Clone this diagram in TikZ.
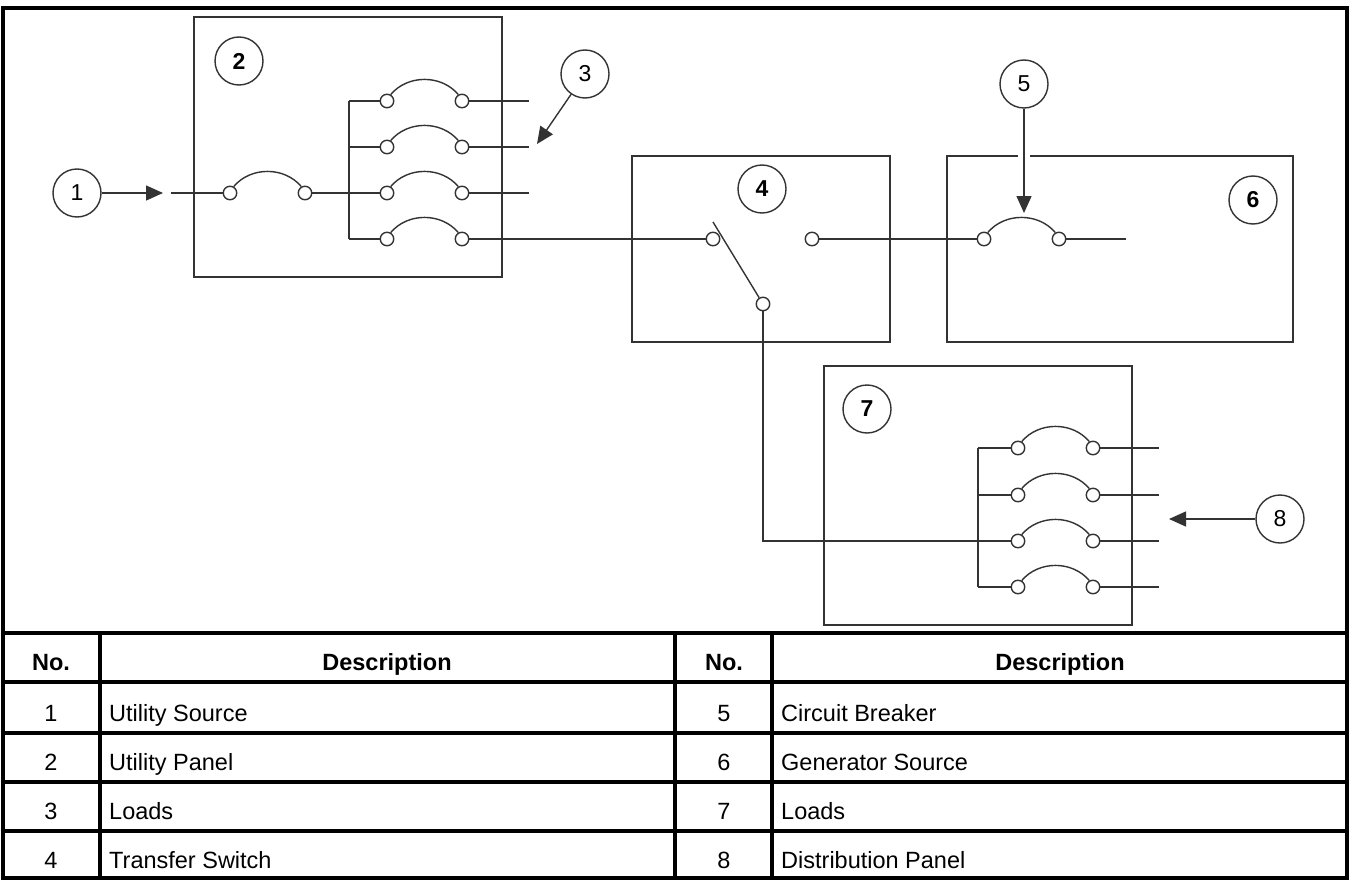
\documentclass[tikz,border=0pt]{standalone}
\usepackage{fontspec}
\setmainfont{Liberation Sans}
\usetikzlibrary{arrows.meta}

\tikzset{
  wire/.style={line width=1.4pt, black!80},
  panel/.style={draw=black!80, line width=1.4pt},
  contact/.style={circle, draw=black!80, line width=1.4pt, fill=white, inner sep=0pt, minimum size=13.5pt},
  tag/.style={circle, draw=black!80, line width=1.4pt, inner sep=0pt, minimum size=48pt, font=\fontsize{23}{23}\selectfont},
  tagb/.style={tag, font=\fontsize{23}{23}\selectfont\bfseries},
  pointer/.style={wire, -{Triangle[length=17pt,width=15pt]}},
  rule/.style={line width=3.2pt, black},
  cell/.style={inner sep=0pt, font=\fontsize{23.5}{23.5}\selectfont},
  head/.style={cell, font=\fontsize{23.5}{23.5}\selectfont\bfseries},
}

% breaker: name, x of left contact, y
\newcommand{\breaker}[3]{
  \node[contact] (#1-l) at (#2,#3) {};
  \node[contact] (#1-r) at (#2+75,#3) {};
  \draw[wire] (#1-l.60) to[bend left=50] (#1-r.120);
}

\begin{document}
\begin{tikzpicture}[x=1pt,y=-1pt]
\path[use as bounding box] (0,0) rectangle (1349,880);

%utility source and panel
\draw[panel] (194,17) rectangle (502,277);
\node[tagb] (tag2) at (239,61) {2};
\node[tag] (tag1) at (77,193) {1};
\coordinate (feedtip) at (163,193);
\coordinate (feed) at (171,193);
\draw[pointer] (tag1) -- (feedtip);
\breaker{main}{230}{193}
\draw[wire] (feed) -- (main-l);
\coordinate (bus2top) at (349,101);
\coordinate (bus2bot) at (349,239);
\draw[wire] (bus2top) -- (bus2bot);
\foreach \n/\y in {a/101,b/147,c/193,d/239}{
  \breaker{load\n}{387}{\y}
  \coordinate (tap\n) at (349,\y);
  \draw[wire] (tap\n) -- (load\n-l);
}
\draw[wire] (main-r) -- (tapc);
\foreach \n/\y in {a/101,b/147,c/193}{
  \coordinate (out\n) at (529,\y);
  \draw[wire] (load\n-r) -- (out\n);
}
\node[tag] (tag3) at (585,74) {3};
\coordinate (loadtip) at (537,144);
\draw[pointer] (tag3) -- (loadtip);

%transfer switch
\draw[panel] (632,156) rectangle (890,342);
\node[tagb] (tag4) at (762,189) {4};
\node[contact] (sw-in) at (713,239) {};
\node[contact] (sw-gen) at (812,239) {};
\node[contact] (sw-load) at (763,304) {};
\coordinate (blade) at (713,222);
\draw[wire] (blade) -- (sw-load);
\draw[wire] (loadd-r) -- (sw-in);

%generator
\draw[panel] (947,156) rectangle (1293,342);
\fill[white] (1018,150) rectangle (1030,162);
\node[tagb] (tag6) at (1253,200) {6};
\breaker{gen}{984}{239}
\draw[wire] (sw-gen) -- (gen-l);
\coordinate (genout) at (1126,239);
\draw[wire] (gen-r) -- (genout);
\node[tag] (tag5) at (1024,84) {5};
\coordinate (gentip) at (1024,213);
\draw[pointer] (tag5) -- (gentip);

%distribution panel
\draw[panel] (824,366) rectangle (1132,625);
\node[tagb] (tag7) at (867,409) {7};
\coordinate (bus7top) at (978,448);
\coordinate (bus7bot) at (978,587);
\draw[wire] (bus7top) -- (bus7bot);
\foreach \n/\y in {a/448,b/495,c/541,d/587}{
  \breaker{dist\n}{1018}{\y}
  \coordinate (dtap\n) at (978,\y);
  \coordinate (dout\n) at (1159,\y);
  \draw[wire] (dtap\n) -- (dist\n-l);
  \draw[wire] (dist\n-r) -- (dout\n);
}
\coordinate (drop) at (763,541);
\draw[wire] (sw-load) -- (drop) -- (dtapc);
\node[tag] (tag8) at (1280,519) {8};
\coordinate (disttip) at (1169,519);
\draw[pointer] (tag8) -- (disttip);

%table
\draw[rule] (3,8) rectangle (1347,878);
\foreach \y in {633,682,733,782,831}{
  \draw[rule] (3,\y) -- (1347,\y);
}
\foreach \x in {100,675,772}{
  \draw[rule] (\x,633) -- (\x,878);
}
\node[head, anchor=base] (h1) at (51,670) {No.};
\node[head, anchor=base] (h2) at (387,670) {Description};
\node[head, anchor=base] (h3) at (724,670) {No.};
\node[head, anchor=base] (h4) at (1060,670) {Description};
\foreach \i/\a/\ta/\b/\tb in {1/1/Utility Source/5/Circuit Breaker,
    2/2/Utility Panel/6/Generator Source,
    3/3/Loads/7/Loads,
    4/4/Transfer Switch/8/Distribution Panel}{
  \node[cell, anchor=base] (n\i) at (51,721+49*\i-49) {\a};
  \node[cell, anchor=base west] (d\i) at (109,721+49*\i-49) {\ta};
  \node[cell, anchor=base] (m\i) at (724,721+49*\i-49) {\b};
  \node[cell, anchor=base west] (e\i) at (781,721+49*\i-49) {\tb};
}
\end{tikzpicture}
\end{document}
